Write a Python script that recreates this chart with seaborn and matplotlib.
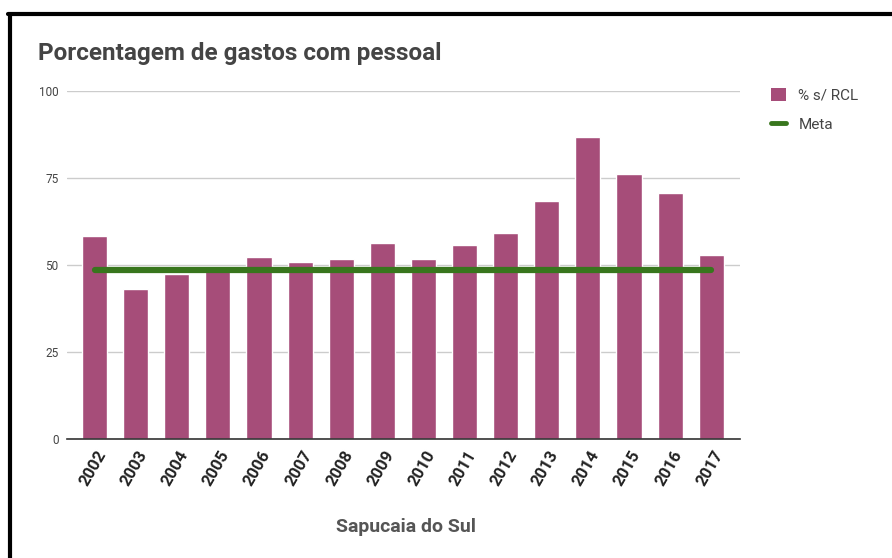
import matplotlib
matplotlib.use("Agg")
import matplotlib.pyplot as plt
import matplotlib.transforms as mtransforms
from matplotlib.lines import Line2D
from matplotlib.patches import Patch
import pandas as pd
import seaborn as sns

sns.set_theme(style="white")
plt.rcParams['font.family'] = ['Roboto', 'DejaVu Sans']

# -- Data -- #
years = ["2002", "2003", "2004", "2005", "2006", "2007", "2008", "2009",
         "2010", "2011", "2012", "2013", "2014", "2015", "2016", "2017"]
pct_rcl = [58.3, 43.2, 47.5, 48.5, 52.4, 51.0, 51.8, 56.2,
           51.8, 55.8, 59.3, 68.5, 86.9, 76.2, 70.8, 52.8]
meta = [48.6] * len(years)

bar_color = "#A64D79"
line_color = "#38761D"

df = pd.DataFrame({"Ano": years, "pct": pct_rcl, "meta": meta})

W, H = 892, 558
fig = plt.figure(figsize=(W / 100, H / 100), dpi=100)
ax = fig.add_axes([67 / W, 1 - 439 / H, (740 - 67) / W, (439 - 91) / H])

sns.barplot(data=df, x="Ano", y="pct", color=bar_color, saturation=1,
            width=0.61, ax=ax, zorder=2)
sns.lineplot(x=df.index, y=df["meta"], color=line_color, linewidth=4.5,
             ax=ax, zorder=3)

ax.set_xlim(-0.67, 15.7)
ax.set_ylim(0, 100)
ax.set_yticks([0, 25, 50, 75, 100])
ax.yaxis.grid(True, color="#cccccc", linewidth=1)
ax.set_axisbelow(True)

for s in ["top", "right", "left"]:
    ax.spines[s].set_visible(False)
ax.spines["bottom"].set_color("#333333")
ax.spines["bottom"].set_linewidth(1.2)
ax.spines["bottom"].set_zorder(4)

ax.tick_params(axis="y", length=0, pad=6, labelsize=8.5, labelcolor="#444444")
ax.tick_params(axis="x", length=0, pad=9, labelsize=12, labelcolor="#222222")
shift = mtransforms.ScaledTranslation(8 / 100, 0, fig.dpi_scale_trans)
for lab in ax.get_xticklabels():
    lab.set_rotation(60)
    lab.set_ha("right")
    lab.set_va("center")
    lab.set_rotation_mode("anchor")
    lab.set_fontweight("bold")
    lab.set_transform(lab.get_transform() + shift)

ax.set_ylabel("")
ax.set_xlabel("")
fig.text(406 / W, 1 - 527 / H, "Sapucaia do Sul", fontsize=14,
         fontweight="bold", color="#555555", ha="center", va="center")

fig.text(38 / W, 1 - 60 / H, "Porcentagem de gastos com pessoal",
         fontsize=17.5, fontweight="bold", color="#444444", va="baseline")

handles = [Patch(facecolor=bar_color, edgecolor="none"),
           Line2D([0], [0], color=line_color, lw=3.5)]
leg = fig.legend(handles, ["% s/ RCL", "Meta"], loc="upper left",
                 bbox_to_anchor=(757 / W, 1 - 74 / H), frameon=False,
                 fontsize=11, handlelength=1.0, handleheight=1.0,
                 handletextpad=0.8, labelspacing=0.95)
for t in leg.get_texts():
    t.set_color("#444444")

# black frame on top and left (as in the screenshot)
fig.add_artist(Line2D([10 / W, 10 / W], [0, 1 - 14 / H], color="black",
                      lw=3, transform=fig.transFigure))
fig.add_artist(Line2D([8 / W, 1], [1 - 14 / H, 1 - 14 / H], color="black",
                      lw=3, transform=fig.transFigure))

fig.savefig("out.png", dpi=100)
